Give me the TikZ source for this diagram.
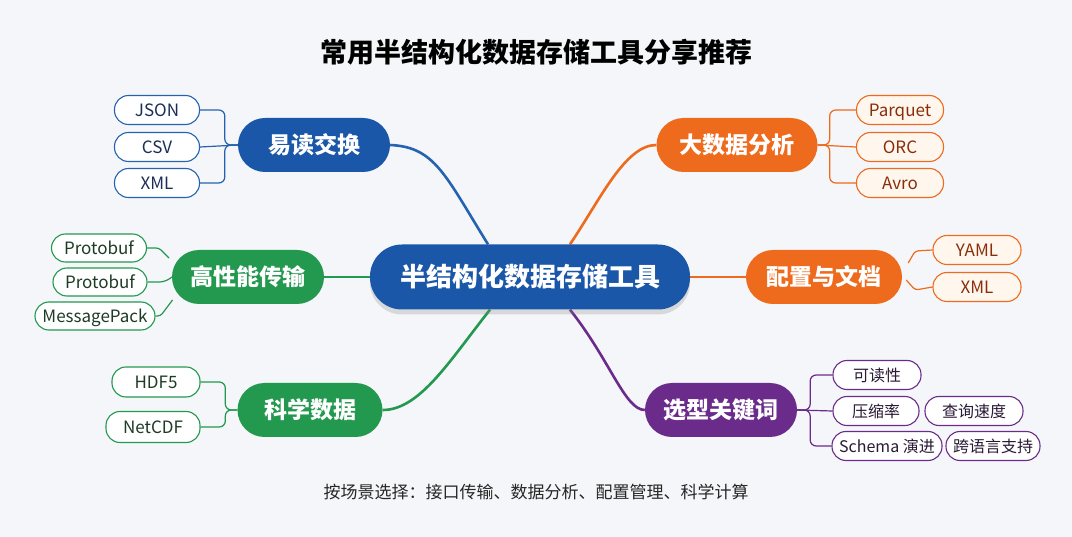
\documentclass[tikz,border=0pt]{standalone}
\usepackage{fontspec}
\setmainfont{Noto Sans CJK SC}
\usetikzlibrary{shadows,calc}
\definecolor{bgc}{HTML}{F4F6F9}
\definecolor{cblue}{HTML}{1B57A8}
\definecolor{lblue}{HTML}{2563B0}
\definecolor{cgreen}{HTML}{23984F}
\definecolor{corange}{HTML}{EE6A1C}
\definecolor{cpurple}{HTML}{6A2B8B}
\definecolor{tblue}{HTML}{1B2E55}
\definecolor{tgreen}{HTML}{1E3B25}
\definecolor{torange}{HTML}{8A2E0A}
\definecolor{tpurple}{HTML}{2A1A35}
\definecolor{oleaf}{HTML}{FFF7EE}
\pgfdeclarelayer{bg}
\pgfdeclarelayer{back}
\pgfsetlayers{back,bg,main}
\tikzset{
  branch/.style={rectangle, rounded corners=27pt, minimum height=54pt, minimum width=152pt, text=white, font=\fontsize{23}{27}\selectfont\bfseries, inner sep=0pt},
  leaf/.style={rectangle, rounded corners=14pt, minimum height=29pt, line width=1.1pt, font=\fontsize{17}{20}\selectfont, inner xsep=6pt, inner ysep=0pt, text height=14pt, text depth=1.6pt},
  bleaf/.style={leaf, draw=lblue, fill=white, text=tblue},
  gleaf/.style={leaf, draw=cgreen, fill=white, text=tgreen},
  oleafs/.style={leaf, draw=corange, fill=oleaf, text=torange},
  pleaf/.style={leaf, draw=cpurple, fill=white, text=tpurple, font=\fontsize{16}{19}\selectfont},
  conn/.style={line width=1.2pt, rounded corners=6pt},
  main/.style={line width=2.6pt},
}
\begin{document}
\begin{tikzpicture}[x=1pt,y=-1pt]
\begin{pgfonlayer}{back}
\fill[bgc] (0,0) rectangle (1072,537);
\end{pgfonlayer}
\useasboundingbox (0,0) rectangle (1072,537);
% title
\node[font=\fontsize{27}{32}\selectfont\bfseries] (title) at (536,52) {常用半结构化数据存储工具分享推荐};
% center
\node[rectangle, rounded corners=32pt, minimum width=320pt, minimum height=65pt, fill=cblue, text=white, font=\fontsize{26}{31}\selectfont\bfseries, drop shadow={opacity=0.25, shadow xshift=0pt, shadow yshift=-5pt}] (c) at (530,277) {半结构化数据存储工具};
% branches
\node[branch, fill=cblue] (b1) at (314,145) {易读交换};
\node[branch, fill=cgreen] (b2) at (248,277) {高性能传输};
\node[branch, fill=cgreen, minimum width=145pt] (b3) at (310,410) {科学数据};
\node[branch, fill=corange, minimum width=161pt] (b4) at (737,145) {大数据分析};
\node[branch, fill=corange, minimum width=156pt] (b5) at (824,277) {配置与文档};
\node[branch, fill=cpurple] (b6) at (721,410) {选型关键词};
% blue leaves
\node[bleaf, minimum width=85pt] (json) at (157,110) {JSON};
\node[bleaf, minimum width=85pt] (csv) at (157,147) {CSV};
\node[bleaf, minimum width=85pt] (xml1) at (157,183) {XML};
% green leaves
\node[gleaf, minimum width=95pt, minimum height=28pt] (pb1) at (99,248) {Protobuf};
\node[gleaf, minimum width=94pt, minimum height=28pt] (pb2) at (100,282) {Protobuf};
\node[gleaf, minimum width=120pt, minimum height=28pt] (mp) at (95,316) {MessagePack};
\node[gleaf, minimum width=88pt, minimum height=30pt] (hdf) at (156,382) {HDF5};
\node[gleaf, minimum width=94pt, minimum height=31pt] (nc) at (153,427) {NetCDF};
% orange leaves
\node[oleafs, minimum width=87pt] (parq) at (900,110) {Parquet};
\node[oleafs, minimum width=87pt] (orc) at (900,147) {ORC};
\node[oleafs, minimum width=87pt] (avro) at (900,183) {Avro};
\node[oleafs, minimum width=88pt] (yaml) at (977,250) {YAML};
\node[oleafs, minimum width=88pt] (xml2) at (977,287) {XML};
% purple leaves
\node[pleaf, minimum width=88pt] (kd) at (877,375) {可读性};
\node[pleaf, minimum width=86pt] (ys) at (876,411) {压缩率};
\node[pleaf, minimum width=98pt] (cx) at (974,411) {查询速度};
\node[pleaf, minimum width=110pt, inner xsep=3pt] (sc) at (887,446) {Schema 演进};
\node[pleaf, minimum width=94pt, inner xsep=3pt] (ky) at (993,446) {跨语言支持};
% footer
\node[font=\fontsize{17}{20}\selectfont, text=black!85] (foot) at (536,492) {按场景选择：接口传输、数据分析、配置管理、科学计算};
\begin{pgfonlayer}{bg}
% main connectors
\draw[main, lblue] (b1.east) .. controls (435,147) and (445,175) .. ($(c.north)+(-42,0)$);
\draw[main, corange] ($(c.north)+(40,0)$) .. controls (600,200) and (625,145) .. (b4.west);
\draw[main, cgreen] (b2.east) -- (c.west);
\draw[main, corange] (c.east) -- (b5.west);
\draw[main, cgreen] ($(c.south)+(-40,0)$) .. controls (450,360) and (420,410) .. (b3.east);
\draw[main, cpurple] ($(c.south)+(40,0)$) .. controls (610,360) and (625,410) .. (b6.west);
% blue brackets
\draw[conn, lblue] (b1.west) -- ++(-13,0) |- (json.east);
\draw[conn, lblue] (b1.west) -- (csv.east);
\draw[conn, lblue] (b1.west) -- ++(-13,0) |- (xml1.east);
% green
\draw[conn, cgreen, rounded corners=3pt] (pb1.east) -- ++(12,0) -- ++(10,10);
\draw[conn, cgreen] (pb2.east) -- ++(18,0) -- (b2.west);
\draw[conn, cgreen, rounded corners=3pt] (mp.east) -- ++(5,0) -- ++(12,-16);
\draw[conn, cgreen] (b3.west) -- ++(-12,0) |- (hdf.east);
\draw[conn, cgreen] (b3.west) -- ++(-12,0) |- (nc.east);
% orange
\draw[conn, corange] (b4.east) -- ++(12,0) |- (parq.west);
\draw[conn, corange] (b4.east) -- (orc.west);
\draw[conn, corange] (b4.east) -- ++(12,0) |- (avro.west);
\draw[conn, corange, rounded corners=3pt] ($(b5.east)+(6,-14)$) -- ++(7,-12) -- (yaml.west);
\draw[conn, corange, rounded corners=3pt] ($(b5.east)+(4,3)$) -- ++(9,10) -- (xml2.west);
% purple
\draw[conn, cpurple] (b6.east) -- ++(13,0) |- (kd.west);
\draw[conn, cpurple] (b6.east) -- (ys.west);
\draw[conn, cpurple] (b6.east) -- ++(13,0) |- (sc.west);
\end{pgfonlayer}
\end{tikzpicture}
\end{document}
